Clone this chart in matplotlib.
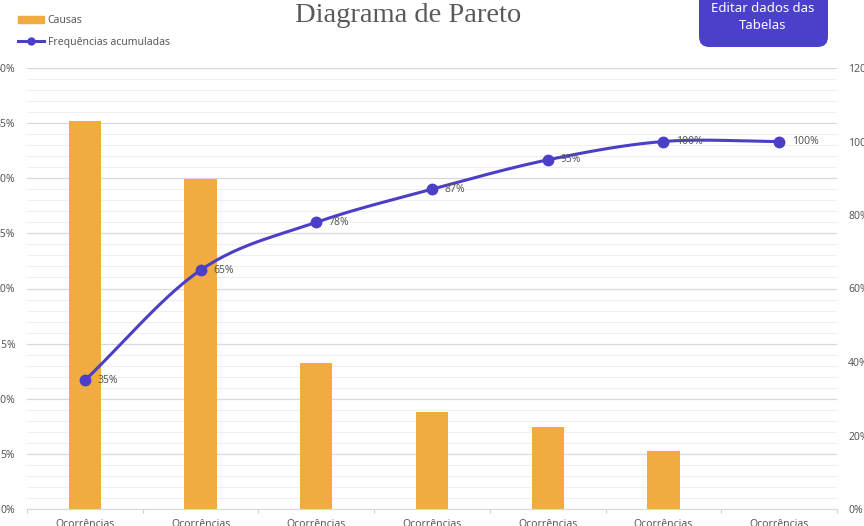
import matplotlib.pyplot as plt
import numpy as np
from matplotlib.patches import FancyBboxPatch
from matplotlib.lines import Line2D
from matplotlib.patches import Patch
from matplotlib.ticker import MultipleLocator, PercentFormatter

# dados
categorias = ["Ocorrências"] * 7
causas = [35.2, 29.9, 13.2, 8.8, 7.4, 5.3, 0.0]          # % (eixo esquerdo)
acumulado = [35, 65, 78, 87, 95, 100, 100]                # % (eixo direito)
rotulos = ["35%", "65%", "78%", "87%", "95%", "100%", "100%"]

cor_barra = "#F0AC41"
cor_linha = "#4A3FC6"
cor_texto = "#595959"

plt.rcParams["font.family"] = ["Noto Sans", "DejaVu Sans"]

W, H = 864, 526
fig = plt.figure(figsize=(W / 100, H / 100), dpi=100)
ax = fig.add_axes([27 / W, 1 - 509 / H, (837 - 27) / W, (509 - 68) / H])
ax2 = ax.twinx()

x = np.arange(len(categorias))

ax.bar(x, causas, width=0.28, color=cor_barra, zorder=2)
ax.set_xlim(-0.5, len(categorias) - 0.5)
ax.set_ylim(0, 40)
ax.yaxis.set_major_locator(MultipleLocator(5))
ax.yaxis.set_minor_locator(MultipleLocator(1))
ax.yaxis.set_major_formatter(PercentFormatter(decimals=0))
ax.grid(axis="y", which="major", color="#D9D9D9", lw=0.9, zorder=0)
ax.grid(axis="y", which="minor", color="#EFEFEF", lw=0.8, zorder=0)
ax.set_axisbelow(True)

ax.set_xticks(x)
ax.set_xticklabels(categorias)
ax.set_xticks(np.arange(len(categorias) + 1) - 0.5, minor=True)
ax.tick_params(axis="x", which="major", length=0, pad=7, labelsize=7.5, labelcolor=cor_texto)
ax.tick_params(axis="x", which="minor", length=3, color="#D0D0D0", width=0.8)
ax.tick_params(axis="y", which="both", length=0, pad=8.5, labelsize=7.5, labelcolor=cor_texto)

for s in ["top", "left", "right"]:
    ax.spines[s].set_visible(False)
    ax2.spines[s].set_visible(False)
ax.spines["bottom"].set_color("#D9D9D9")
ax2.spines["bottom"].set_visible(False)

# linha suavizada (catmull-rom) pelos pontos acumulados
def suavizar(xs, ys, n=30):
    xs = np.asarray(xs, float)
    ys = np.asarray(ys, float)
    px = np.concatenate([[2 * xs[0] - xs[1]], xs, [2 * xs[-1] - xs[-2]]])
    py = np.concatenate([[2 * ys[0] - ys[1]], ys, [2 * ys[-1] - ys[-2]]])
    ox, oy = [], []
    t = np.linspace(0, 1, n)
    for i in range(1, len(px) - 2):
        for p, o in ((px, ox), (py, oy)):
            p0, p1, p2, p3 = p[i - 1], p[i], p[i + 1], p[i + 2]
            o.extend(0.5 * ((2 * p1) + (-p0 + p2) * t
                            + (2 * p0 - 5 * p1 + 4 * p2 - p3) * t ** 2
                            + (-p0 + 3 * p1 - 3 * p2 + p3) * t ** 3))
    return np.array(ox), np.array(oy)

sx, sy = suavizar(x, acumulado)
ax2.plot(sx, sy, color=cor_linha, lw=2.2, zorder=3)
ax2.plot(x, acumulado, "o", color=cor_linha, ms=7.5, zorder=4)
for xi, yi, r in zip(x, acumulado, rotulos):
    ax2.annotate(r, (xi, yi), xytext=(9, 0), textcoords="offset points",
                 va="center", ha="left", fontsize=7.5, color=cor_texto)

ax2.set_ylim(0, 120)
ax2.yaxis.set_major_locator(MultipleLocator(20))
ax2.yaxis.set_major_formatter(PercentFormatter(decimals=0))
ax2.tick_params(axis="y", length=0, pad=8, labelsize=7.5, labelcolor=cor_texto)

# titulo
fig.text(408 / W, 1 - 22 / H, "Diagrama de Pareto", ha="center", va="baseline",
         fontsize=20.5, color=cor_texto, family="Liberation Serif")

# legenda
handles = [Patch(color=cor_barra),
           Line2D([], [], color=cor_linha, lw=2.2, marker="o", ms=5)]
fig.legend(handles, ["Causas", "Frequências acumuladas"], loc="upper left",
           bbox_to_anchor=(9 / W, 1 - 6 / H), frameon=False, fontsize=7.5,
           labelcolor=cor_texto, handlelength=2.5, handletextpad=0.3,
           labelspacing=1.0)

# botao
botao = FancyBboxPatch((699 / W, 1 - 47 / H), (828 - 699) / W, 60 / H,
                       boxstyle="round,pad=0,rounding_size=0.012",
                       transform=fig.transFigure, facecolor="#4A40CC",
                       edgecolor="none", mutation_aspect=W / H)
fig.patches.append(botao)
fig.text(763 / W, 1 - 17 / H, "Editar dados das\nTabelas", ha="center",
         va="center", color="white", fontsize=9.5, linespacing=1.35)

fig.savefig("out.png", dpi=100)
